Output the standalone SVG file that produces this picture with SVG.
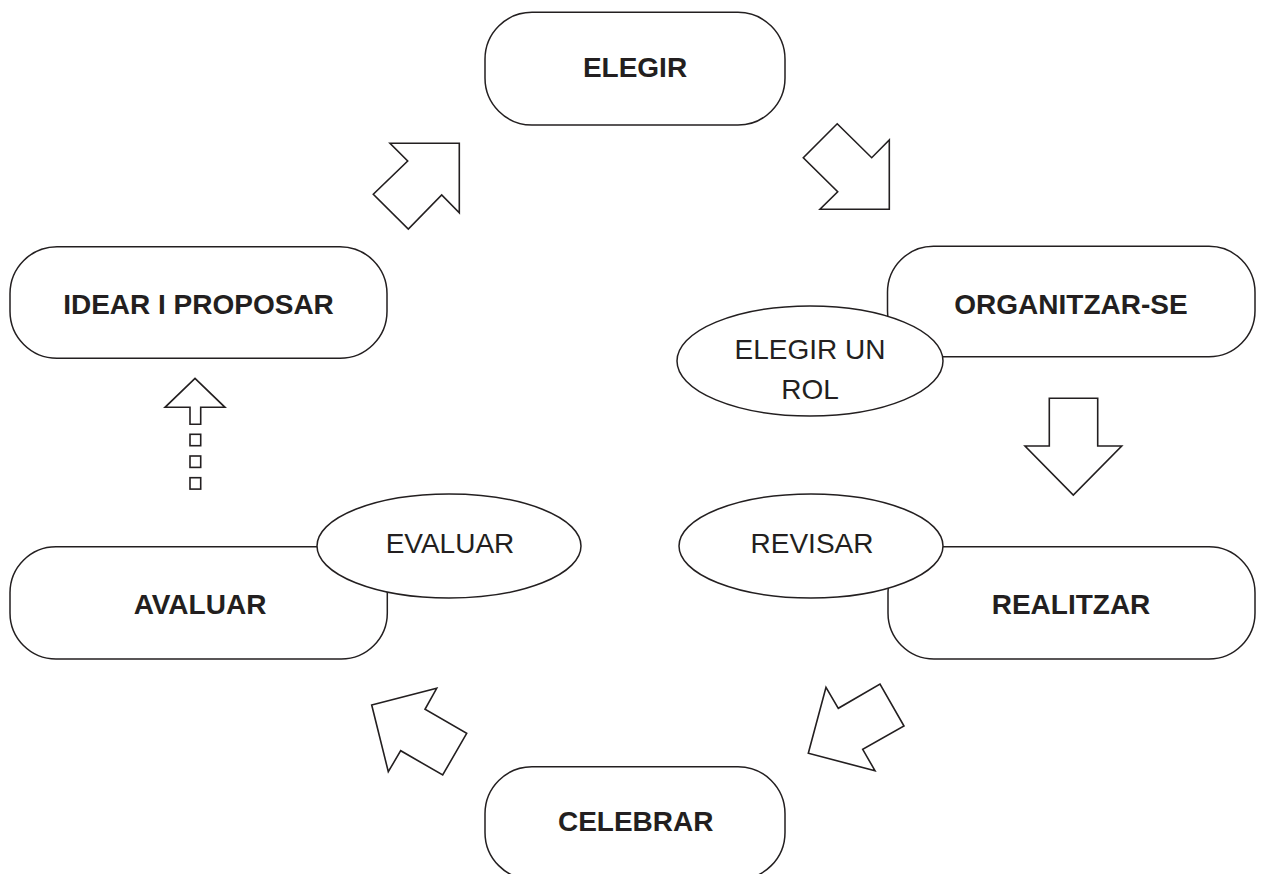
<svg xmlns="http://www.w3.org/2000/svg" width="1265" height="874" viewBox="0 0 1265 874">
<style>
.box{fill:#fff;stroke:#231f20;stroke-width:1.5}
.arr{fill:#fff;stroke:#231f20;stroke-width:1.6;stroke-linejoin:miter}
.b{font-family:"Liberation Sans",Arial,sans-serif;font-size:28px;font-weight:bold;fill:#231f20;text-anchor:middle}
.r{font-family:"Liberation Sans",Arial,sans-serif;font-size:28px;fill:#231f20;text-anchor:middle}
</style>
<rect width="1265" height="874" fill="#fff"/>
<g id="connectors">
<polygon class="arr" points="390,143.3 459.3,143.3 459.3,212.7 441.7,195 408.3,229 373.3,194.3 407.7,161"/>
<polygon class="arr" points="837.2,123.8 871.7,157.7 889.3,140 889.3,209.3 820,209.3 837.7,191.7 803.3,157.7"/>
<polygon class="arr" points="1049.3,398.3 1097.7,398.3 1097.7,446 1121.7,446 1073.3,495 1025,446 1049.3,446"/>
<polygon class="arr" points="826,687.3 838.3,708.3 880,684 904,726 862.7,749.3 875,770.7 808.3,753.3"/>
<polygon class="arr" points="371.7,705 436.7,688.3 425,709.3 466.7,733.3 442.7,775 400.7,750.7 388.3,771.7"/>
<polygon class="arr" points="195,378.3 225,407.3 200.7,407.3 200.7,424.3 190,424.3 190,407.3 165,407.3"/>
<rect class="arr" x="190" y="434.3" width="10.7" height="11.4"/>
<rect class="arr" x="190" y="456" width="10.7" height="11.4"/>
<rect class="arr" x="190" y="477.7" width="10.7" height="11.4"/>
</g>
<g id="elegir">
<rect class="box" x="485" y="12.3" width="300" height="112.7" rx="47" ry="47"/>
<text class="b" x="635" y="77">ELEGIR</text>
</g>
<g id="idear">
<rect class="box" x="10" y="246.7" width="377" height="111.6" rx="47" ry="47"/>
<text class="b" x="198.5" y="314">IDEAR I PROPOSAR</text>
</g>
<g id="organitzar">
<rect class="box" x="887.5" y="246.3" width="367.5" height="110.4" rx="46" ry="46"/>
<text class="b" x="1071" y="314">ORGANITZAR-SE</text>
</g>
<g id="elegir-rol">
<ellipse class="box" cx="810" cy="361" rx="133" ry="55"/>
<text class="r" x="810" y="359">ELEGIR UN</text>
<text class="r" x="810" y="399">ROL</text>
</g>
<g id="realitzar">
<rect class="box" x="888" y="546.7" width="367" height="112.3" rx="46" ry="46"/>
<text class="b" x="1071" y="614">REALITZAR</text>
</g>
<g id="revisar">
<ellipse class="box" cx="811" cy="546" rx="132" ry="52"/>
<text class="r" x="812" y="553.3">REVISAR</text>
</g>
<g id="avaluar">
<rect class="box" x="10" y="546.7" width="377.3" height="112.3" rx="46" ry="46"/>
<text class="b" x="200" y="614.3">AVALUAR</text>
</g>
<g id="evaluar">
<ellipse class="box" cx="449" cy="546" rx="132" ry="52"/>
<text class="r" x="450" y="553.3">EVALUAR</text>
</g>
<g id="celebrar">
<rect class="box" x="485" y="766.7" width="300" height="112.7" rx="47" ry="47"/>
<text class="b" x="635.7" y="831.3">CELEBRAR</text>
</g>
</svg>
